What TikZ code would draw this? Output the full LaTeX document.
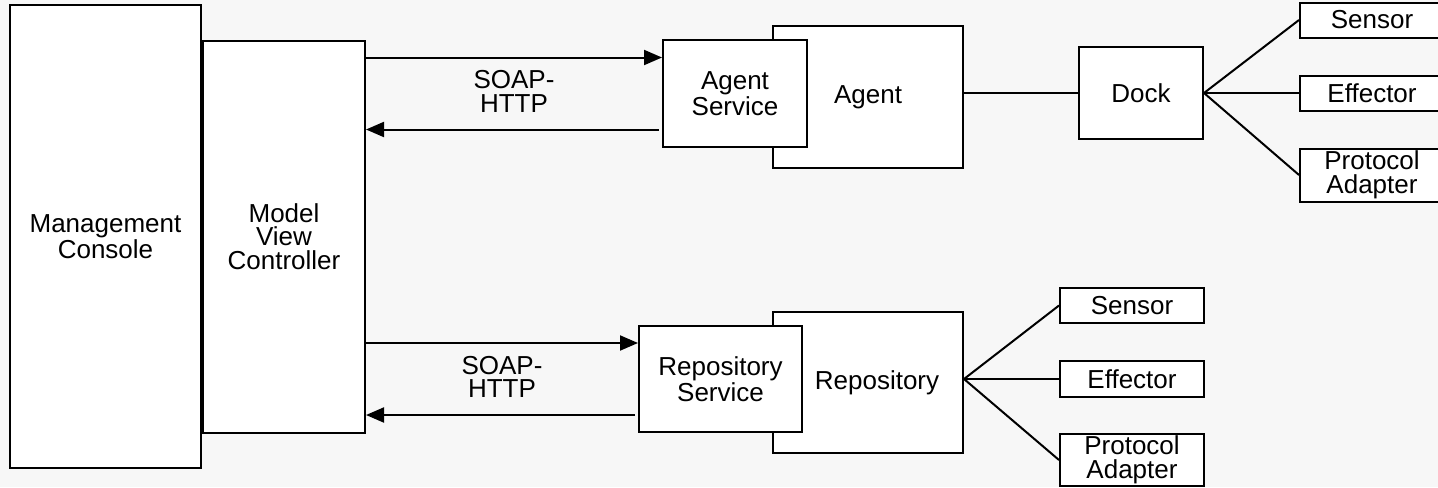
\documentclass[tikz,border=0pt]{standalone}
\usepackage{fontspec}
\setmainfont{Liberation Sans}
\usetikzlibrary{arrows.meta,positioning,calc}

\begin{document}
\begin{tikzpicture}[x=1pt,y=1pt,
    lbl/.style={align=center,font=\fontsize{13}{11.8}\selectfont},
    box/.style={lbl,draw,line width=1pt,fill=white,inner sep=0pt},
    part/.style={box,minimum width=72pt,minimum height=17.5pt},
    link/.style={line width=1pt},
    msg/.style={link,-{Triangle[length=9pt,width=7.5pt]}}]
  \useasboundingbox[fill=black!3] (0,0) rectangle (719,-243.5);
  \node[box,minimum width=95.5pt,minimum height=231.5pt] (mc) at (52.75,-118.25)
  {Management\\Console};
  \node[box,right=0pt of mc,minimum width=81pt,minimum height=196pt] (mvc)
  {Model\\View\\Controller};
  \node[box,minimum width=95pt,minimum height=71pt] (agent) at (434,-48.5) {Agent};
  \node[box,minimum width=72pt,minimum height=53.5pt] (as) at (367.5,-46.75)
  {Agent\\Service};
  \node[box,right=57pt of agent,yshift=2pt,minimum width=62pt,minimum height=46pt]
  (dock) {Dock};
  \node[part,right=47.5pt of dock] (eff1) {Effector};
  \node[part,above=18pt of eff1] (sen1) {Sensor};
  \node[part,below=18pt of eff1,minimum height=26.5pt] (pa1) {Protocol\\Adapter};
  \node[box,minimum width=95pt,minimum height=70.5pt,
    label={[lbl,xshift=4.5pt]center:Repository}] (repo) at (434,-191.25) {};
  \node[box,minimum width=81.5pt,minimum height=53pt] (rs) at (360.25,-189.5)
  {Repository\\Service};
  \node[part,right=47.5pt of repo,yshift=1.75pt,minimum height=18pt] (eff2) {Effector};
  \node[part,above=18pt of eff2] (sen2) {Sensor};
  \node[part,below=17.5pt of eff2,minimum height=26pt] (pa2) {Protocol\\Adapter};
  \foreach \S in {as,rs}
    {\coordinate (\S in) at ($(\S.west)+(0,18)$);
      \coordinate (\S out) at ($(\S.west)+(-1.5,-18)$);
      \draw[msg] (mvc.east |- \S in) -- (\S in);
      \draw[msg] (\S out) -- (mvc.east |- \S out);
      \path (mvc.east |- \S.west) -- (\S.west) node[midway,lbl,yshift=1pt]
      {SOAP-\\HTTP};}
  \draw[link] (dock) -- (dock -| agent.east);
  \foreach \P in {sen1,eff1,pa1}
    \draw[link] (dock.east) -- (\P.west);
  \coordinate (hub) at (repo.east |- eff2);
  \foreach \P in {sen2,eff2,pa2}
    \draw[link] (hub) -- (\P.west);
\end{tikzpicture}
\end{document}
